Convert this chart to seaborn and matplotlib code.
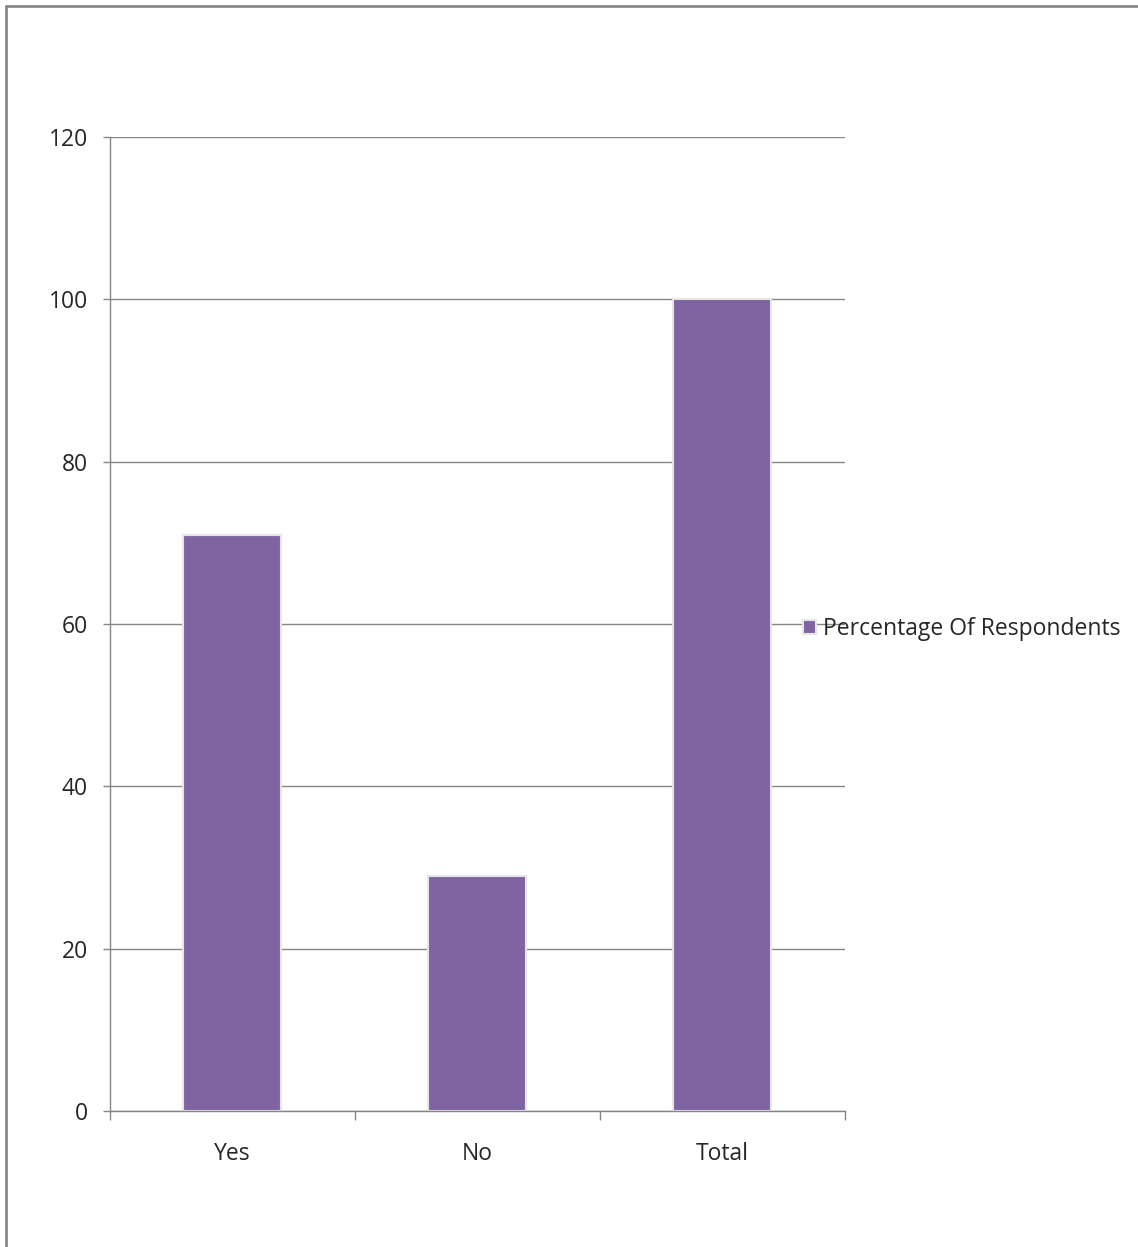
import matplotlib
matplotlib.use("Agg")
import matplotlib.pyplot as plt
from matplotlib.lines import Line2D
from matplotlib.ticker import FixedLocator
import pandas as pd
import seaborn as sns

categories = ["Yes", "No", "Total"]
percentages = [71, 29, 100]
series_name = "Percentage Of Respondents"
y_ticks = [0, 20, 40, 60, 80, 100, 120]

df = pd.DataFrame({"answer": categories, "pct": percentages, "series": series_name})

sns.set_style("white")
plt.rcParams["font.family"] = ["Open Sans", "DejaVu Sans"]

FS = 16.5
fig = plt.figure(figsize=(11.38, 12.47), dpi=100)
ax = fig.add_axes([110 / 1138, 1 - 1111 / 1247, (845 - 110) / 1138, (1111 - 137) / 1247])

sns.barplot(data=df, x="answer", y="pct", hue="series", palette=["#8064A2"],
            saturation=1, width=0.4, edgecolor="#e6e6e6", linewidth=1.5, ax=ax)

ax.set_ylim(0, 120)
ax.set_xlim(-0.5, 2.5)
ax.set_yticks(y_ticks)
ax.yaxis.grid(True, color="#868686", linewidth=1)
ax.set_axisbelow(True)
ax.set_xlabel("")
ax.set_ylabel("")

for side in ["top", "right"]:
    ax.spines[side].set_visible(False)
for side in ["left", "bottom"]:
    ax.spines[side].set_color("#868686")
    ax.spines[side].set_linewidth(1)

ax.tick_params(axis="y", direction="out", length=5, color="#868686", width=1,
               labelsize=FS, pad=11, left=True)
ax.tick_params(axis="x", which="major", length=0, labelsize=FS, pad=22)
ax.xaxis.set_minor_locator(FixedLocator([-0.5, 0.5, 1.5, 2.5]))
ax.tick_params(axis="x", which="minor", direction="out", length=6.5,
               color="#868686", width=1, bottom=True)

ax.legend(loc="center left", bbox_to_anchor=(792 / 1138, 1 - 629 / 1247),
          bbox_transform=fig.transFigure, frameon=False, fontsize=FS,
          handlelength=0.55, handleheight=0.55, handletextpad=0.3, borderpad=0)

# outer chart border (only left and top visible)
fig.add_artist(Line2D([6 / 1138, 6 / 1138], [0, 1 - 6 / 1247],
                      transform=fig.transFigure, color="#888888", linewidth=2))
fig.add_artist(Line2D([6 / 1138, 1], [1 - 6 / 1247, 1 - 6 / 1247],
                      transform=fig.transFigure, color="#888888", linewidth=2))

fig.savefig("out.png", dpi=100)
